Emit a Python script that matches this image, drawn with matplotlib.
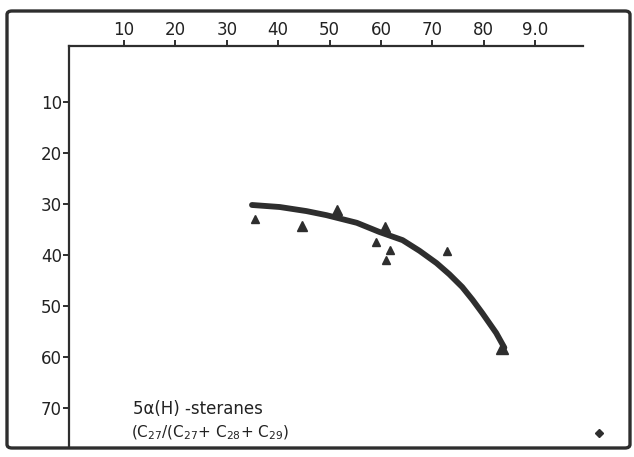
import matplotlib
matplotlib.use("Agg")
import matplotlib.pyplot as plt
from matplotlib.patches import FancyBboxPatch

plt.rcParams.update({
    "font.family": "DejaVu Sans",
    "font.size": 12,
})

INK = "#2e2e2e"

# trend curve (hand-drawn)
curve_x = [34.9, 40.3, 45.5, 49.4, 55.3, 59.7, 64.2, 67.5, 70.8, 73.3,
           75.8, 77.8, 79.7, 82.4, 84.0]
curve_y = [30.2, 30.6, 31.4, 32.2, 33.7, 35.5, 37.1, 39.2, 41.6, 43.8,
           46.3, 48.8, 51.4, 55.3, 58.2]

# triangle samples
pts_x = [35.5, 44.6, 51.4, 60.7, 59.1, 61.8, 61.0, 72.9, 83.6]
pts_y = [32.9, 34.3, 31.2, 34.5, 37.5, 39.0, 41.0, 39.2, 58.2]
pts_size = [6, 7, 7, 7, 6, 6, 6, 6, 9]

# stray point outside the axes
stray_x = [102.4]
stray_y = [74.9]

xticks = [10, 20, 30, 40, 50, 60, 70, 80, 90]
xticklabels = ["10", "20", "30", "40", "50", "60", "70", "80", "9.0"]
yticks = [10, 20, 30, 40, 50, 60, 70]
yticklabels = ["10", "20", "30", "40", "50", "60", "70"]

fig = plt.figure(figsize=(6.34, 4.57), dpi=100)

# outer hand-drawn frame
frame = FancyBboxPatch((7 / 634, 9 / 457), 623 / 634, 437 / 457,
                       boxstyle="round,pad=0,rounding_size=0.008",
                       transform=fig.transFigure, fill=False,
                       edgecolor=INK, lw=2.4)
fig.patches.append(frame)

ax = fig.add_axes([69 / 634, 11 / 457, 514 / 634, 400 / 457])
ax.set_xlim(-0.7, 99.3)
ax.set_ylim(77.5, -1.0)

for side in ("right", "bottom"):
    ax.spines[side].set_visible(False)
for side in ("top", "left"):
    ax.spines[side].set_linewidth(1.6)
    ax.spines[side].set_color(INK)

ax.xaxis.tick_top()
ax.set_xticks(xticks)
ax.set_xticklabels(xticklabels)
ax.set_yticks(yticks)
ax.set_yticklabels(yticklabels)
ax.tick_params(axis="both", direction="out", length=4, width=1.4,
               colors=INK, labelcolor="#222", labelsize=12, pad=1)

ax.plot(curve_x, curve_y, color=INK, lw=4.2, solid_capstyle="round",
        solid_joinstyle="round")
for x, y, s in zip(pts_x, pts_y, pts_size):
    ax.plot(x, y, marker="^", ms=s, color=INK, ls="none")
ax.plot(stray_x, stray_y, marker="D", ms=4, color=INK, ls="none",
        clip_on=False)

ax.text(11.8, 70.2, "5α(H) -steranes", fontsize=12, color="#222",
        va="center", ha="left")
ax.text(11.4, 75.0, "(C$_{27}$/(C$_{27}$+ C$_{28}$+ C$_{29}$)", fontsize=11,
        color="#222", va="center", ha="left")

fig.savefig("out.png", dpi=100)
plt.close(fig)
